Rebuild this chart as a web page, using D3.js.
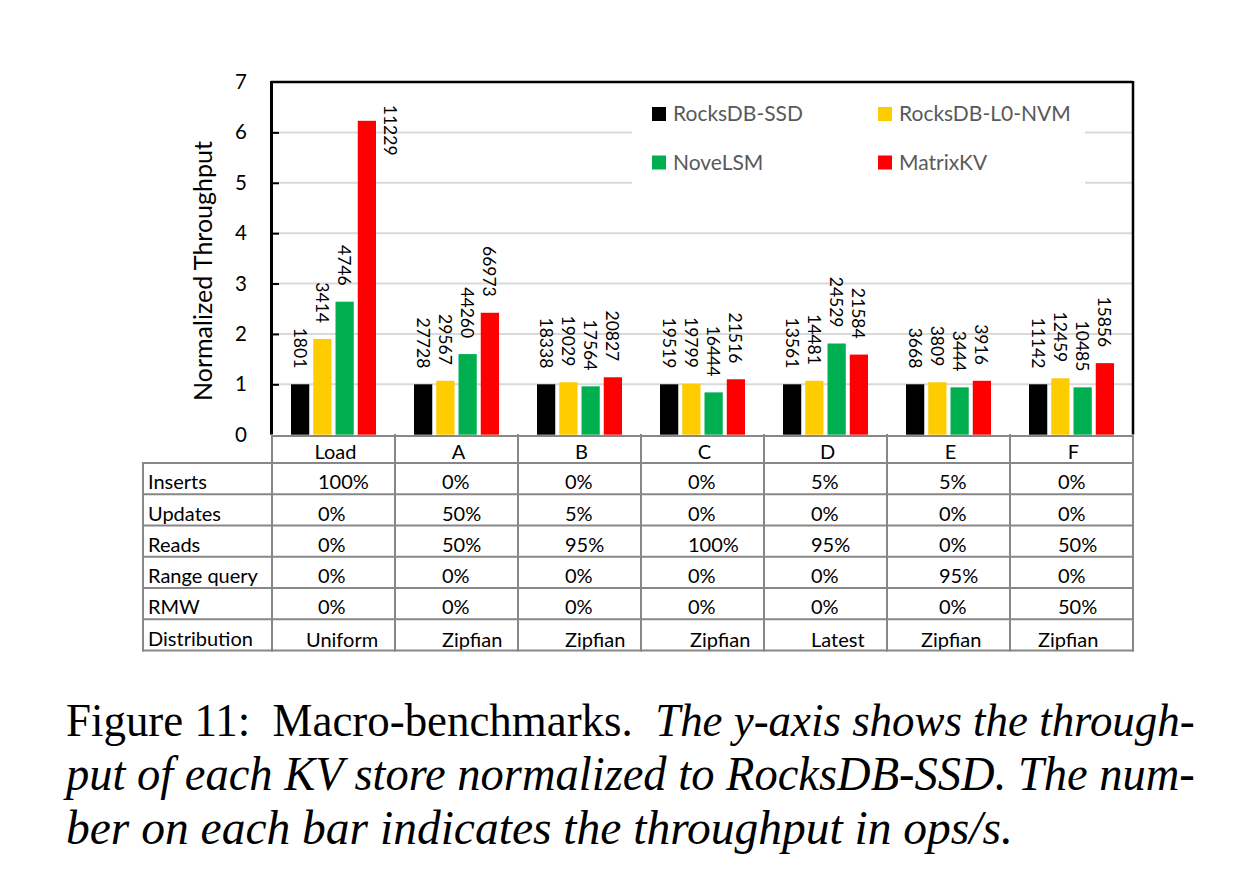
<!DOCTYPE html>
<html>
<head>
<meta charset="utf-8">
<script src="https://cdn.jsdelivr.net/npm/d3@7"></script>
<style>
  html, body { margin: 0; padding: 0; background: #ffffff; }
  svg { display: block; }
</style>
</head>
<body>
<svg id="chart" width="1236" height="881"></svg>
<script>
// ---------------- DATA ----------------
const categories = ["Load", "A", "B", "C", "D", "E", "F"];
const seriesNames = ["RocksDB-SSD", "RocksDB-L0-NVM", "NoveLSM", "MatrixKV"];
const seriesColors = ["#000000", "#FFCC00", "#00B050", "#FF0000"];

// throughput labels (ops/s) shown on each bar
const rocksdbSSD   = [1801, 27728, 18338, 19519, 13561, 3668, 11142];
const rocksdbL0NVM = [3414, 29567, 19029, 19799, 14481, 3809, 12459];
const noveLSM      = [4746, 44260, 17564, 16444, 24529, 3444, 10485];
const matrixKV     = [11229, 66973, 20827, 21516, 21584, 3916, 15856];

// normalized throughput (bar heights)
const normSSD      = [1, 1, 1, 1, 1, 1, 1];
const normL0NVM    = [1.90, 1.07, 1.04, 1.01, 1.07, 1.04, 1.12];
const normNoveLSM  = [2.64, 1.60, 0.96, 0.84, 1.81, 0.94, 0.94];
const normMatrixKV = [6.23, 2.42, 1.14, 1.10, 1.59, 1.07, 1.42];

const yTicks = [0, 1, 2, 3, 4, 5, 6, 7];

const rowLabels = ["Inserts", "Updates", "Reads", "Range query", "RMW", "Distribution"];
const insertsRow = ["100%", "0%", "0%", "0%", "5%", "5%", "0%"];
const updatesRow = ["0%", "50%", "5%", "0%", "0%", "0%", "0%"];
const readsRow   = ["0%", "50%", "95%", "100%", "95%", "0%", "50%"];
const rangeRow   = ["0%", "0%", "0%", "0%", "0%", "95%", "0%"];
const rmwRow     = ["0%", "0%", "0%", "0%", "0%", "0%", "50%"];
const distRow    = ["Uniform", "Zipfian", "Zipfian", "Zipfian", "Latest", "Zipfian", "Zipfian"];

// ---------------- LAYOUT ----------------
const svg = d3.select("#chart");
const plot = { left: 272, right: 1133, top: 82, bottom: 434.7 };
const tableLeft = 143;
const headerTop = 435, headerBottom = 463, rowH = 31.25;
const FONT = "Lato, 'Open Sans', sans-serif";
const gridColor = "#d9d9d9", tableColor = "#878787";

const labelsBySeries = [rocksdbSSD, rocksdbL0NVM, noveLSM, matrixKV];
const normBySeries = [normSSD, normL0NVM, normNoveLSM, normMatrixKV];

const x0 = d3.scaleBand().domain(categories).range([plot.left, plot.right]).padding(0);
const x1 = d3.scaleBand().domain(seriesNames).range([-42.5, 42.5]).paddingInner(0.18);
const y = d3.scaleLinear().domain([0, 7]).range([plot.bottom, plot.top]);

// gridlines
svg.append("g").selectAll("line").data(yTicks.filter(t => t > 0 && t < 7)).join("line")
  .attr("x1", plot.left).attr("x2", plot.right)
  .attr("y1", d => y(d)).attr("y2", d => y(d))
  .attr("stroke", gridColor).attr("stroke-width", 2);

// legend background (covers gridlines)
const legend = svg.append("g");
legend.append("rect").attr("x", 632).attr("y", 92).attr("width", 453).attr("height", 100).attr("fill", "#fff");

// bars
const barData = [];
categories.forEach((c, ci) => {
  seriesNames.forEach((s, si) => {
    barData.push({ cat: c, series: s, si, norm: normBySeries[si][ci], label: labelsBySeries[si][ci] });
  });
});
svg.append("g").selectAll("rect").data(barData).join("rect")
  .attr("x", d => x0(d.cat) + x0.bandwidth() / 2 + x1(d.series))
  .attr("width", x1.bandwidth())
  .attr("y", d => y(d.norm))
  .attr("height", d => y(0) - y(d.norm))
  .attr("fill", d => seriesColors[d.si]);

// bar value labels (rotated)
const lblG = svg.append("g");
barData.forEach(d => {
  const cx = x0(d.cat) + x0.bandwidth() / 2 + x1(d.series) + x1.bandwidth() / 2;
  const top = y(d.norm) - 16;
  const t = lblG.append("text")
    .attr("font-family", FONT).attr("font-size", 17.5).attr("fill", "#000")
    .attr("dominant-baseline", "central")
    .text(d.label);
  const len = t.node().getComputedTextLength();
  let px = cx, anchor = "end";
  if (top - len < plot.top + 2) { px = cx + 24; anchor = "start"; }
  t.attr("text-anchor", anchor).attr("transform", `translate(${px},${top}) rotate(90)`);
});

// axis frame
svg.append("line").attr("x1", plot.left - 1).attr("x2", plot.right).attr("y1", plot.top).attr("y2", plot.top)
  .attr("stroke", "#000").attr("stroke-width", 2.5);
svg.append("line").attr("x1", plot.right).attr("x2", plot.right).attr("y1", plot.top - 1).attr("y2", plot.bottom)
  .attr("stroke", "#000").attr("stroke-width", 2.5);
svg.append("line").attr("x1", plot.left - 0.5).attr("x2", plot.left - 0.5).attr("y1", plot.top - 1).attr("y2", plot.bottom)
  .attr("stroke", "#000").attr("stroke-width", 3);

// y axis ticks and labels via d3 axis
const yAxis = d3.axisLeft(y).tickValues(yTicks).tickSize(-7).tickPadding(24).tickFormat(d3.format("d"));
const yg = svg.append("g").attr("transform", `translate(${plot.left},0)`).call(yAxis);
yg.select(".domain").remove();
yg.selectAll(".tick line").attr("stroke", "#000").attr("stroke-width", 2)
  .attr("display", d => (d === 0 || d === 7) ? "none" : null);
yg.selectAll(".tick text").attr("font-family", FONT).attr("font-size", 20.5).attr("fill", "#000")
  .attr("text-anchor", "middle").attr("x", -31);

// y title
svg.append("text").attr("transform", "translate(212,271) rotate(-90)")
  .attr("text-anchor", "middle").attr("font-family", FONT).attr("font-size", 25).attr("fill", "#000")
  .text("Normalized Throughput");

// legend items
const legendPos = [[652, 107], [878, 107], [652, 155.5], [878, 155.5]];
seriesNames.forEach((s, i) => {
  const [lx, ly] = legendPos[i];
  legend.append("rect").attr("x", lx).attr("y", ly).attr("width", 14).attr("height", 14).attr("fill", seriesColors[i]);
  legend.append("text").attr("x", lx + 21).attr("y", ly + 14).attr("font-family", FONT).attr("font-size", 21)
    .attr("fill", "#595959").text(s);
});

// ---------------- TABLE ----------------
const tg = svg.append("g");
const tableRows = [insertsRow, updatesRow, readsRow, rangeRow, rmwRow, distRow];
const tableBottom = headerBottom + rowH * tableRows.length;
// header row
categories.forEach(c => {
  tg.append("text").attr("x", x0(c) + x0.bandwidth() / 2 + 2).attr("y", headerBottom - 4)
    .attr("text-anchor", "middle").attr("font-family", FONT).attr("font-size", 20).attr("fill", "#000").text(c);
});
// cell texts
const colOffset = [46, 47, 47, 47, 47, 52, 48];
const distOffset = [34, 47, 47, 49, 47, 34, 28];
tableRows.forEach((row, ri) => {
  const yb = headerBottom + rowH * (ri + 1) - 5;
  tg.append("text").attr("x", tableLeft + 5).attr("y", yb).attr("font-family", FONT).attr("font-size", 20)
    .attr("fill", "#000").text(rowLabels[ri]);
  row.forEach((v, ci) => {
    const off = ri === tableRows.length - 1 ? distOffset[ci] : colOffset[ci];
    tg.append("text").attr("x", x0(categories[ci]) + off).attr("y", yb + (ri === tableRows.length - 1 ? 1 : 0))
      .attr("font-family", FONT).attr("font-size", 20).attr("fill", "#000").text(v);
  });
});
// table lines
const lines = [];
lines.push([plot.left, headerTop + 1, plot.right, headerTop + 1]);
for (let r = 0; r <= tableRows.length; r++) {
  const yy = headerBottom + rowH * r;
  lines.push([tableLeft, yy, plot.right, yy]);
}
lines.push([tableLeft, headerBottom, tableLeft, tableBottom]);
categories.forEach(c => lines.push([x0(c), headerTop, x0(c), tableBottom]));
lines.push([plot.right, headerTop, plot.right, tableBottom]);
tg.selectAll("line").data(lines).join("line")
  .attr("x1", d => d[0]).attr("y1", d => d[1]).attr("x2", d => d[2]).attr("y2", d => d[3])
  .attr("stroke", tableColor).attr("stroke-width", 2).attr("stroke-linecap", "square");

// ---------------- CAPTION ----------------
const capFont = "'Liberation Serif', 'Times New Roman', serif";
const capX = 66, capRight = 1195, capSize = 47.5;
function captionLine(yb, parts, justify) {
  const g = svg.append("g").attr("transform", `translate(${capX},${yb})`);
  const t = g.append("text").attr("x", 0).attr("y", 0).attr("font-family", capFont)
    .attr("font-size", capSize).attr("fill", "#000").style("white-space", "pre");
  parts.forEach(p => t.append("tspan").attr("font-style", p.italic ? "italic" : "normal").text(p.text));
  if (justify) {
    const full = parts.map(p => p.text).join("");
    const spaces = (full.match(/ /g) || []).length;
    const len = t.node().getComputedTextLength();
    const target = capRight - capX;
    if (len <= target) {
      t.style("word-spacing", ((target - len) / spaces) + "px");
    } else {
      g.attr("transform", `translate(${capX},${yb}) scale(${target / len},1)`);
    }
  }
}
captionLine(736, [{ text: "Figure 11:  Macro-benchmarks.  ", italic: false }, { text: "The y-axis shows the through-", italic: true }], true);
captionLine(790, [{ text: "put of each KV store normalized to RocksDB-SSD. The num-", italic: true }], true);
captionLine(844, [{ text: "ber on each bar indicates the throughput in ops/s.", italic: true }], false);
</script>
</body>
</html>
